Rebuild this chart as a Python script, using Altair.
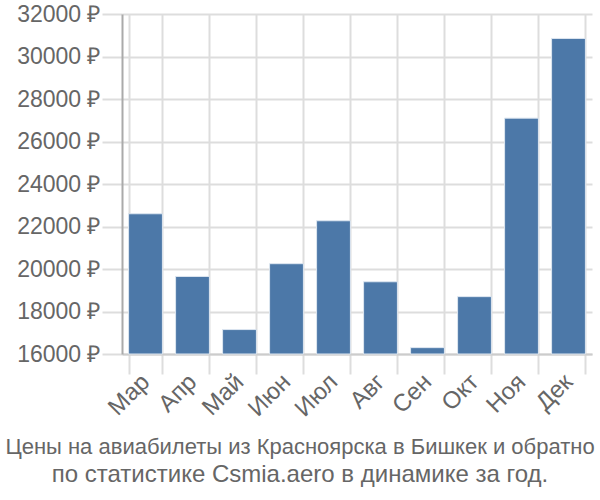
import altair as alt
import pandas as pd

months = ["Мар", "Апр", "Май", "Июн", "Июл", "Авг", "Сен", "Окт", "Ноя", "Дек"]
prices = [22600, 19650, 17150, 20250, 22270, 19400, 16300, 18700, 27100, 30850]
base_value = 16000

df = pd.DataFrame({"month": months, "price": prices, "base": [base_value] * len(months)})

FONT = "Liberation Sans"

chart = alt.Chart(df).mark_bar(color="#4c78a8", stroke="#dde6f0", strokeWidth=1).encode(
    x=alt.X("month:N", sort=months, title=None,
            scale=alt.Scale(paddingInner=0.28, paddingOuter=0.14),
            axis=alt.Axis(labelAngle=-45, labelAlign="right", labelBaseline="middle",
                          labelFontSize=24, labelColor="#666666",
                          labelFont=FONT, tickSize=20, tickColor="#dddddd", tickWidth=2,
                          domainColor="#cccccc", domainWidth=2, grid=True, gridColor="#dddddd",
                          gridWidth=2, tickBand="extent", labelPadding=4)),
    y=alt.Y("price:Q", title=None,
            scale=alt.Scale(domain=[16000, 32000], zero=False, nice=False),
            axis=alt.Axis(values=list(range(16000, 32001, 2000)), labelExpr="datum.value + ' ₽'",
                          labelFontSize=23, labelColor="#666666", labelFont=FONT,
                          tickSize=20, tickColor="#dddddd", tickWidth=2,
                          domainColor="#aaaaaa", domainWidth=2,
                          gridColor="#dddddd", gridWidth=2, labelPadding=2)),
    y2="base:Q",
).properties(
    width=470, height=340,
    title=alt.TitleParams(
        "Цены на авиабилеты из Красноярска в Бишкек и обратно",
        subtitle="по статистике Csmia.aero в динамике за год.",
        orient="bottom", fontSize=22, font=FONT, fontWeight="normal",
        color="#666666", anchor="middle", offset=16, dx=-57,
        subtitleFontSize=24, subtitleFont=FONT, subtitleColor="#666666",
        subtitlePadding=4),
    autosize=alt.AutoSizeParams(type="none"),
    padding={"left": 122, "top": 14, "right": 8, "bottom": 146},
).configure_view(stroke=None)

chart.save("out.html", embed_options={"renderer": "svg", "actions": False})
